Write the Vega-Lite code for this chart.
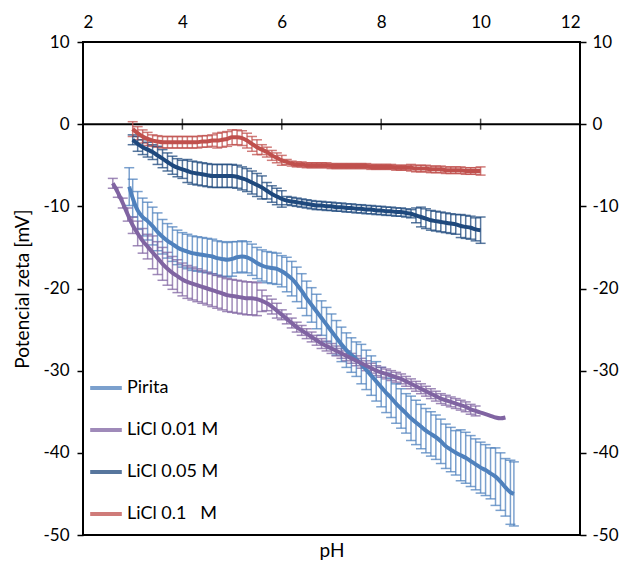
{
"$schema":"https://vega.github.io/schema/vega-lite/v6.json",
"width":497,"height":493,
"autosize":{"type":"none"},
"padding":{"left":83,"top":42,"right":40,"bottom":34},
"background":"white",
"config":{
 "font":"Lato",
 "view":{"stroke":"black","strokeWidth":2},
 "axis":{"labelFont":"Lato","labelFontSize":17,"labelColor":"black","titleFont":"Lato","titleFontSize":19,"titleFontWeight":"normal","titleColor":"black","grid":false,"domain":false,"tickColor":"black","tickWidth":1.5,"tickSize":6},
 "legend":{"labelFont":"Lato","labelFontSize":18,"labelColor":"black"}
},
"datasets":{"d":[
{"s":"P","x":2.93,"y":-7.6,"e":2.3},{"s":"P","x":3.0,"y":-9.0,"e":2.3},{"s":"P","x":3.1,"y":-10.5,"e":2.3},{"s":"P","x":3.2,"y":-11.3,"e":2.3},{"s":"P","x":3.3,"y":-11.8,"e":2.3},{"s":"P","x":3.4,"y":-12.4,"e":2.3},{"s":"P","x":3.5,"y":-13.1,"e":2.3},
{"s":"P","x":3.6,"y":-13.7,"e":2.1},{"s":"P","x":3.7,"y":-14.2,"e":2.1},{"s":"P","x":3.8,"y":-14.6,"e":2.1},{"s":"P","x":3.9,"y":-15.0,"e":2.1},{"s":"P","x":4.0,"y":-15.3,"e":2.1},{"s":"P","x":4.1,"y":-15.5,"e":2.1},{"s":"P","x":4.2,"y":-15.7,"e":2.1},{"s":"P","x":4.3,"y":-15.8,"e":2.1},{"s":"P","x":4.4,"y":-15.9,"e":2.1},{"s":"P","x":4.5,"y":-16.0,"e":2.1},{"s":"P","x":4.6,"y":-16.1,"e":2.1},{"s":"P","x":4.7,"y":-16.3,"e":2.1},{"s":"P","x":4.8,"y":-16.4,"e":2.1},{"s":"P","x":4.9,"y":-16.5,"e":2.1},{"s":"P","x":5.0,"y":-16.4,"e":2.1},
{"s":"P","x":5.1,"y":-16.2,"e":1.9},{"s":"P","x":5.2,"y":-16.1,"e":1.9},{"s":"P","x":5.3,"y":-16.2,"e":1.9},{"s":"P","x":5.4,"y":-16.5,"e":1.9},{"s":"P","x":5.5,"y":-16.9,"e":1.9},{"s":"P","x":5.6,"y":-17.2,"e":1.9},{"s":"P","x":5.7,"y":-17.4,"e":1.9},{"s":"P","x":5.8,"y":-17.5,"e":1.9},{"s":"P","x":5.9,"y":-17.6,"e":1.9},{"s":"P","x":6.0,"y":-17.9,"e":1.9},
{"s":"P","x":6.1,"y":-18.3,"e":2.1},{"s":"P","x":6.2,"y":-18.8,"e":2.1},{"s":"P","x":6.3,"y":-19.5,"e":2.1},{"s":"P","x":6.4,"y":-20.3,"e":2.1},{"s":"P","x":6.5,"y":-21.2,"e":2.1},{"s":"P","x":6.6,"y":-22.0,"e":2.1},{"s":"P","x":6.7,"y":-22.8,"e":2.1},{"s":"P","x":6.8,"y":-23.6,"e":2.1},{"s":"P","x":6.9,"y":-24.4,"e":2.1},{"s":"P","x":7.0,"y":-25.2,"e":2.1},{"s":"P","x":7.1,"y":-26.0,"e":2.1},{"s":"P","x":7.2,"y":-26.8,"e":2.1},{"s":"P","x":7.3,"y":-27.5,"e":2.1},{"s":"P","x":7.4,"y":-28.1,"e":2.1},{"s":"P","x":7.5,"y":-28.6,"e":2.1},
{"s":"P","x":7.6,"y":-29.2,"e":2.4},{"s":"P","x":7.7,"y":-29.9,"e":2.4},{"s":"P","x":7.8,"y":-30.6,"e":2.4},{"s":"P","x":7.9,"y":-31.3,"e":2.4},{"s":"P","x":8.0,"y":-32.0,"e":2.4},{"s":"P","x":8.1,"y":-32.7,"e":2.4},{"s":"P","x":8.2,"y":-33.3,"e":2.4},{"s":"P","x":8.3,"y":-34.0,"e":2.4},{"s":"P","x":8.4,"y":-34.6,"e":2.4},{"s":"P","x":8.5,"y":-35.2,"e":2.4},
{"s":"P","x":8.6,"y":-35.8,"e":2.7},{"s":"P","x":8.7,"y":-36.3,"e":2.7},{"s":"P","x":8.8,"y":-36.8,"e":2.7},{"s":"P","x":8.9,"y":-37.3,"e":2.7},{"s":"P","x":9.0,"y":-37.7,"e":2.7},{"s":"P","x":9.1,"y":-38.1,"e":2.7},{"s":"P","x":9.2,"y":-38.6,"e":2.7},{"s":"P","x":9.3,"y":-39.2,"e":2.7},{"s":"P","x":9.4,"y":-39.6,"e":2.7},{"s":"P","x":9.5,"y":-40.0,"e":2.7},
{"s":"P","x":9.6,"y":-40.3,"e":3.1},{"s":"P","x":9.7,"y":-40.6,"e":3.1},{"s":"P","x":9.8,"y":-41.0,"e":3.1},{"s":"P","x":9.9,"y":-41.4,"e":3.1},{"s":"P","x":10.0,"y":-41.8,"e":3.1},{"s":"P","x":10.1,"y":-42.1,"e":3.1},{"s":"P","x":10.2,"y":-42.5,"e":3.1},
{"s":"P","x":10.3,"y":-42.9,"e":3.5},{"s":"P","x":10.4,"y":-43.5,"e":3.5},{"s":"P","x":10.5,"y":-44.2,"e":3.5},{"s":"P","x":10.6,"y":-44.8,"e":3.9},{"s":"P","x":10.67,"y":-45.0,"e":3.9},

{"s":"L1","x":2.6,"y":-7.2,"e":0.6},{"s":"L1","x":2.7,"y":-8.3,"e":0.6},{"s":"L1","x":2.8,"y":-9.6,"e":0.6},{"s":"L1","x":2.9,"y":-11.0,"e":0.8},{"s":"L1","x":3.0,"y":-12.3,"e":1.0},{"s":"L1","x":3.1,"y":-13.3,"e":1.5},{"s":"L1","x":3.2,"y":-14.2,"e":1.5},{"s":"L1","x":3.3,"y":-14.9,"e":1.5},
{"s":"L1","x":3.4,"y":-15.6,"e":2.0},{"s":"L1","x":3.5,"y":-16.3,"e":2.0},{"s":"L1","x":3.6,"y":-17.0,"e":2.0},{"s":"L1","x":3.7,"y":-17.6,"e":2.0},{"s":"L1","x":3.8,"y":-18.1,"e":2.0},{"s":"L1","x":3.9,"y":-18.5,"e":2.0},{"s":"L1","x":4.0,"y":-18.9,"e":2.0},{"s":"L1","x":4.1,"y":-19.2,"e":2.0},{"s":"L1","x":4.2,"y":-19.4,"e":2.0},{"s":"L1","x":4.3,"y":-19.6,"e":2.0},{"s":"L1","x":4.4,"y":-19.8,"e":2.0},{"s":"L1","x":4.5,"y":-20.0,"e":2.0},{"s":"L1","x":4.6,"y":-20.2,"e":2.0},{"s":"L1","x":4.7,"y":-20.4,"e":2.0},{"s":"L1","x":4.8,"y":-20.6,"e":2.0},{"s":"L1","x":4.9,"y":-20.8,"e":2.0},{"s":"L1","x":5.0,"y":-20.9,"e":2.0},{"s":"L1","x":5.1,"y":-21.0,"e":2.0},{"s":"L1","x":5.2,"y":-21.1,"e":2.0},{"s":"L1","x":5.3,"y":-21.2,"e":2.0},{"s":"L1","x":5.4,"y":-21.2,"e":2.0},{"s":"L1","x":5.5,"y":-21.3,"e":2.0},
{"s":"L1","x":5.6,"y":-21.5,"e":1.3},{"s":"L1","x":5.7,"y":-21.8,"e":0.9},{"s":"L1","x":5.8,"y":-22.2,"e":0.9},{"s":"L1","x":5.9,"y":-22.7,"e":0.9},
{"s":"L1","x":6.0,"y":-23.2,"e":0.6},{"s":"L1","x":6.1,"y":-23.7,"e":0.6},{"s":"L1","x":6.2,"y":-24.2,"e":0.6},{"s":"L1","x":6.3,"y":-24.7,"e":0.6},{"s":"L1","x":6.4,"y":-25.1,"e":0.6},{"s":"L1","x":6.5,"y":-25.5,"e":0.6},{"s":"L1","x":6.6,"y":-25.9,"e":0.6},{"s":"L1","x":6.7,"y":-26.3,"e":0.6},{"s":"L1","x":6.8,"y":-26.7,"e":0.6},{"s":"L1","x":6.9,"y":-27.0,"e":0.6},{"s":"L1","x":7.0,"y":-27.3,"e":0.6},{"s":"L1","x":7.1,"y":-27.6,"e":0.6},{"s":"L1","x":7.2,"y":-27.9,"e":0.6},{"s":"L1","x":7.3,"y":-28.2,"e":0.6},{"s":"L1","x":7.4,"y":-28.5,"e":0.6},{"s":"L1","x":7.5,"y":-28.8,"e":0.6},{"s":"L1","x":7.6,"y":-29.1,"e":0.6},{"s":"L1","x":7.7,"y":-29.4,"e":0.6},{"s":"L1","x":7.8,"y":-29.7,"e":0.6},{"s":"L1","x":7.9,"y":-30.0,"e":0.6},{"s":"L1","x":8.0,"y":-30.2,"e":0.6},{"s":"L1","x":8.1,"y":-30.4,"e":0.6},{"s":"L1","x":8.2,"y":-30.6,"e":0.6},{"s":"L1","x":8.3,"y":-30.8,"e":0.6},{"s":"L1","x":8.4,"y":-31.0,"e":0.6},{"s":"L1","x":8.5,"y":-31.3,"e":0.6},{"s":"L1","x":8.6,"y":-31.6,"e":0.6},{"s":"L1","x":8.7,"y":-31.9,"e":0.6},{"s":"L1","x":8.8,"y":-32.2,"e":0.6},{"s":"L1","x":8.9,"y":-32.5,"e":0.6},{"s":"L1","x":9.0,"y":-32.8,"e":0.6},{"s":"L1","x":9.1,"y":-33.1,"e":0.6},{"s":"L1","x":9.2,"y":-33.4,"e":0.6},{"s":"L1","x":9.3,"y":-33.6,"e":0.6},{"s":"L1","x":9.4,"y":-33.8,"e":0.6},{"s":"L1","x":9.5,"y":-34.0,"e":0.6},{"s":"L1","x":9.6,"y":-34.2,"e":0.6},{"s":"L1","x":9.7,"y":-34.4,"e":0.6},{"s":"L1","x":9.8,"y":-34.7,"e":0.6},{"s":"L1","x":9.9,"y":-34.9,"e":0.6},
{"s":"L1","x":10.0,"y":-35.1,"e":0},{"s":"L1","x":10.1,"y":-35.3,"e":0},{"s":"L1","x":10.2,"y":-35.5,"e":0},{"s":"L1","x":10.3,"y":-35.7,"e":0},{"s":"L1","x":10.4,"y":-35.8,"e":0},{"s":"L1","x":10.5,"y":-35.7,"e":0},

{"s":"L5","x":3.0,"y":-1.9,"e":0.6},{"s":"L5","x":3.1,"y":-2.4,"e":0.9},{"s":"L5","x":3.2,"y":-2.8,"e":0.9},{"s":"L5","x":3.3,"y":-3.1,"e":0.9},{"s":"L5","x":3.4,"y":-3.4,"e":0.9},{"s":"L5","x":3.5,"y":-3.8,"e":1.1},{"s":"L5","x":3.6,"y":-4.2,"e":1.1},{"s":"L5","x":3.7,"y":-4.6,"e":1.1},{"s":"L5","x":3.8,"y":-5.0,"e":1.1},{"s":"L5","x":3.9,"y":-5.3,"e":1.1},{"s":"L5","x":4.0,"y":-5.5,"e":1.1},
{"s":"L5","x":4.1,"y":-5.7,"e":1.4},{"s":"L5","x":4.2,"y":-5.9,"e":1.4},{"s":"L5","x":4.3,"y":-6.0,"e":1.4},{"s":"L5","x":4.4,"y":-6.1,"e":1.4},{"s":"L5","x":4.5,"y":-6.2,"e":1.4},{"s":"L5","x":4.6,"y":-6.3,"e":1.4},{"s":"L5","x":4.7,"y":-6.3,"e":1.4},{"s":"L5","x":4.8,"y":-6.3,"e":1.4},{"s":"L5","x":4.9,"y":-6.3,"e":1.4},{"s":"L5","x":5.0,"y":-6.3,"e":1.4},{"s":"L5","x":5.1,"y":-6.4,"e":1.4},{"s":"L5","x":5.2,"y":-6.6,"e":1.4},{"s":"L5","x":5.3,"y":-6.8,"e":1.4},{"s":"L5","x":5.4,"y":-7.1,"e":1.4},{"s":"L5","x":5.5,"y":-7.4,"e":1.4},{"s":"L5","x":5.6,"y":-7.7,"e":1.4},
{"s":"L5","x":5.7,"y":-8.1,"e":1.0},{"s":"L5","x":5.8,"y":-8.5,"e":1.0},{"s":"L5","x":5.9,"y":-8.8,"e":1.0},{"s":"L5","x":6.0,"y":-9.1,"e":1.0},
{"s":"L5","x":6.1,"y":-9.3,"e":0.5},{"s":"L5","x":6.2,"y":-9.4,"e":0.5},{"s":"L5","x":6.3,"y":-9.5,"e":0.5},{"s":"L5","x":6.4,"y":-9.6,"e":0.5},{"s":"L5","x":6.5,"y":-9.7,"e":0.5},{"s":"L5","x":6.6,"y":-9.8,"e":0.5},{"s":"L5","x":6.7,"y":-9.9,"e":0.5},{"s":"L5","x":6.8,"y":-9.9,"e":0.5},{"s":"L5","x":6.9,"y":-10.0,"e":0.5},{"s":"L5","x":7.0,"y":-10.0,"e":0.5},{"s":"L5","x":7.1,"y":-10.1,"e":0.5},{"s":"L5","x":7.2,"y":-10.1,"e":0.5},{"s":"L5","x":7.3,"y":-10.2,"e":0.5},{"s":"L5","x":7.4,"y":-10.2,"e":0.5},{"s":"L5","x":7.5,"y":-10.3,"e":0.5},{"s":"L5","x":7.6,"y":-10.3,"e":0.5},{"s":"L5","x":7.7,"y":-10.4,"e":0.5},{"s":"L5","x":7.8,"y":-10.4,"e":0.5},{"s":"L5","x":7.9,"y":-10.5,"e":0.5},{"s":"L5","x":8.0,"y":-10.5,"e":0.5},{"s":"L5","x":8.1,"y":-10.6,"e":0.5},{"s":"L5","x":8.2,"y":-10.6,"e":0.5},{"s":"L5","x":8.3,"y":-10.7,"e":0.5},{"s":"L5","x":8.4,"y":-10.7,"e":0.5},{"s":"L5","x":8.5,"y":-10.8,"e":0.5},{"s":"L5","x":8.6,"y":-10.9,"e":0.5},
{"s":"L5","x":8.7,"y":-11.1,"e":0.9},{"s":"L5","x":8.8,"y":-11.3,"e":1.2},{"s":"L5","x":8.9,"y":-11.5,"e":1.2},{"s":"L5","x":9.0,"y":-11.7,"e":1.2},{"s":"L5","x":9.1,"y":-11.8,"e":1.2},{"s":"L5","x":9.2,"y":-11.9,"e":1.2},{"s":"L5","x":9.3,"y":-12.0,"e":1.2},{"s":"L5","x":9.4,"y":-12.1,"e":1.2},{"s":"L5","x":9.5,"y":-12.2,"e":1.2},{"s":"L5","x":9.6,"y":-12.4,"e":1.4},{"s":"L5","x":9.7,"y":-12.5,"e":1.4},{"s":"L5","x":9.8,"y":-12.6,"e":1.4},{"s":"L5","x":9.9,"y":-12.8,"e":1.4},{"s":"L5","x":10.0,"y":-12.9,"e":1.6},

{"s":"L10","x":3.0,"y":-0.6,"e":0.9},{"s":"L10","x":3.1,"y":-1.1,"e":0.8},{"s":"L10","x":3.2,"y":-1.5,"e":0.8},{"s":"L10","x":3.3,"y":-1.8,"e":0.8},{"s":"L10","x":3.4,"y":-2.0,"e":0.7},{"s":"L10","x":3.5,"y":-2.1,"e":0.7},{"s":"L10","x":3.6,"y":-2.2,"e":0.7},{"s":"L10","x":3.7,"y":-2.2,"e":0.7},{"s":"L10","x":3.8,"y":-2.2,"e":0.7},{"s":"L10","x":3.9,"y":-2.2,"e":0.7},{"s":"L10","x":4.0,"y":-2.2,"e":0.7},{"s":"L10","x":4.1,"y":-2.2,"e":0.7},{"s":"L10","x":4.2,"y":-2.2,"e":0.7},{"s":"L10","x":4.3,"y":-2.2,"e":0.7},{"s":"L10","x":4.4,"y":-2.1,"e":0.7},{"s":"L10","x":4.5,"y":-2.1,"e":0.7},{"s":"L10","x":4.6,"y":-2.0,"e":0.7},
{"s":"L10","x":4.7,"y":-2.0,"e":0.9},{"s":"L10","x":4.8,"y":-1.9,"e":0.9},{"s":"L10","x":4.9,"y":-1.8,"e":0.9},{"s":"L10","x":5.0,"y":-1.6,"e":0.9},{"s":"L10","x":5.1,"y":-1.6,"e":0.9},{"s":"L10","x":5.2,"y":-1.7,"e":0.9},{"s":"L10","x":5.3,"y":-2.0,"e":0.9},{"s":"L10","x":5.4,"y":-2.4,"e":0.9},{"s":"L10","x":5.5,"y":-2.8,"e":0.9},
{"s":"L10","x":5.6,"y":-3.1,"e":0.6},{"s":"L10","x":5.7,"y":-3.4,"e":0.6},{"s":"L10","x":5.8,"y":-3.8,"e":0.6},{"s":"L10","x":5.9,"y":-4.1,"e":0.6},{"s":"L10","x":6.0,"y":-4.4,"e":0.6},
{"s":"L10","x":6.1,"y":-4.6,"e":0.3},{"s":"L10","x":6.2,"y":-4.8,"e":0.3},{"s":"L10","x":6.3,"y":-4.9,"e":0.3},{"s":"L10","x":6.4,"y":-4.9,"e":0.3},{"s":"L10","x":6.5,"y":-5.0,"e":0.3},{"s":"L10","x":6.6,"y":-5.0,"e":0.3},{"s":"L10","x":6.7,"y":-5.0,"e":0.3},{"s":"L10","x":6.8,"y":-5.0,"e":0.3},{"s":"L10","x":6.9,"y":-5.0,"e":0.3},{"s":"L10","x":7.0,"y":-5.1,"e":0.3},{"s":"L10","x":7.1,"y":-5.1,"e":0.3},{"s":"L10","x":7.2,"y":-5.1,"e":0.3},{"s":"L10","x":7.3,"y":-5.1,"e":0.3},{"s":"L10","x":7.4,"y":-5.1,"e":0.3},{"s":"L10","x":7.5,"y":-5.1,"e":0.3},{"s":"L10","x":7.6,"y":-5.1,"e":0.3},{"s":"L10","x":7.7,"y":-5.1,"e":0.3},{"s":"L10","x":7.8,"y":-5.2,"e":0.3},{"s":"L10","x":7.9,"y":-5.2,"e":0.3},{"s":"L10","x":8.0,"y":-5.2,"e":0.3},{"s":"L10","x":8.1,"y":-5.2,"e":0.3},{"s":"L10","x":8.2,"y":-5.2,"e":0.3},{"s":"L10","x":8.3,"y":-5.3,"e":0.3},{"s":"L10","x":8.4,"y":-5.3,"e":0.3},{"s":"L10","x":8.5,"y":-5.3,"e":0.3},
{"s":"L10","x":8.6,"y":-5.3,"e":0.4},{"s":"L10","x":8.7,"y":-5.4,"e":0.4},{"s":"L10","x":8.8,"y":-5.4,"e":0.4},{"s":"L10","x":8.9,"y":-5.4,"e":0.4},{"s":"L10","x":9.0,"y":-5.5,"e":0.4},{"s":"L10","x":9.1,"y":-5.5,"e":0.4},{"s":"L10","x":9.2,"y":-5.5,"e":0.4},{"s":"L10","x":9.3,"y":-5.6,"e":0.4},{"s":"L10","x":9.4,"y":-5.6,"e":0.4},{"s":"L10","x":9.5,"y":-5.6,"e":0.4},{"s":"L10","x":9.6,"y":-5.6,"e":0.4},{"s":"L10","x":9.7,"y":-5.7,"e":0.4},{"s":"L10","x":9.8,"y":-5.7,"e":0.4},{"s":"L10","x":9.9,"y":-5.7,"e":0.4},{"s":"L10","x":10.0,"y":-5.7,"e":0.5}
]},
"resolve":{"axis":{"x":"independent","y":"independent"}},
"layer":[
 {"data":{"values":[{}]},
  "mark":{"type":"rule","color":"black","strokeWidth":2},
  "encoding":{"y":{"datum":0,"type":"quantitative","scale":{"domain":[-50,10],"nice":false},"axis":null}}},
 {"data":{"values":[{"t":2},{"t":4},{"t":6},{"t":8},{"t":10},{"t":12}]},
  "mark":{"type":"tick","orient":"vertical","color":"black","size":11,"thickness":1.5},
  "encoding":{
   "x":{"field":"t","type":"quantitative","scale":{"domain":[2,12],"nice":false},"axis":{"orient":"bottom","title":"pH","titleFontSize":19,"labels":false,"ticks":false,"domain":false,"titlePadding":6}},
   "y":{"datum":0,"type":"quantitative","axis":null}}},
 {"data":{"name":"d"},
  "transform":[{"filter":"datum.e > 0"}],
  "mark":{"type":"errorbar","thickness":1.5,"opacity":0.75,"ticks":{"size":10,"thickness":1.5}},
  "encoding":{
   "x":{"field":"x","type":"quantitative","axis":null},
   "y":{"field":"y","type":"quantitative","axis":{"orient":"right","title":null,"values":[-50,-40,-30,-20,-10,0,10],"labelPadding":6,"labelFontSize":17,"labelExpr":"'' + datum.value"}},
   "yError":{"field":"e"},
   "color":{"field":"s","type":"nominal"}}},
 {"data":{"name":"d"},
  "mark":{"type":"line","strokeWidth":4,"interpolate":"monotone"},
  "encoding":{
   "x":{"field":"x","type":"quantitative","scale":{"domain":[2,12],"nice":false},"axis":{"orient":"top","title":null,"values":[2,4,6,8,10,12],"ticks":false,"tickSize":0,"labelPadding":11,"labelFontSize":17}},
   "y":{"field":"y","type":"quantitative","scale":{"domain":[-50,10],"nice":false},"axis":{"orient":"left","title":"Potencial zeta [mV]","titleFontSize":19,"values":[-50,-40,-30,-20,-10,0,10],"labelPadding":8,"labelFontSize":17,"titlePadding":10,"labelExpr":"'' + datum.value"}},
   "color":{"field":"s","type":"nominal",
     "scale":{"domain":["P","L1","L5","L10"],"range":["#4F81BD","#8064A2","#1F497D","#C0504D"]},
     "legend":{"orient":"none","legendX":5,"legendY":328,"title":null,"symbolType":"stroke","symbolSize":1000,"symbolStrokeWidth":4,"symbolOpacity":1,"rowPadding":15,"labelOffset":3,
       "labelExpr":"datum.label == 'P' ? 'Pirita' : datum.label == 'L1' ? 'LiCl 0.01 M' : datum.label == 'L5' ? 'LiCl 0.05 M' : 'LiCl 0.1\u00a0\u00a0\u00a0M'"}}}}
]
}
